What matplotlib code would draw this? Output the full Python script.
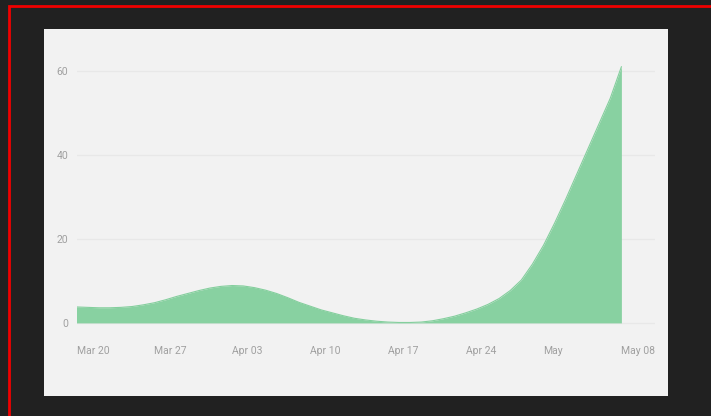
import matplotlib

matplotlib.use("Agg")
import matplotlib.pyplot as plt
import matplotlib.dates as mdates
import pandas as pd
from matplotlib.patches import Rectangle

START = "2020-03-20"
VALUES = [
    3.8, 3.7, 3.6, 3.6, 3.7, 3.9, 4.3,
    4.8, 5.5, 6.3, 7.0, 7.7, 8.3, 8.7,
    8.9, 8.8, 8.4, 7.8, 7.0, 6.0, 4.9,
    4.0, 3.1, 2.4, 1.7, 1.1, 0.7, 0.4,
    0.2, 0.1, 0.1, 0.2, 0.5, 1.0, 1.6,
    2.4, 3.3, 4.4, 5.8, 7.7, 10.2, 14.0,
    18.5, 23.8, 29.5, 35.5, 41.5, 47.5, 53.5,
    61.0,
]
TICK_DATES = ["2020-03-20", "2020-03-27", "2020-04-03", "2020-04-10",
              "2020-04-17", "2020-04-24", "2020-05-01", "2020-05-08"]
TICK_LABELS = ["Mar 20", "Mar 27", "Apr 03", "Apr 10", "Apr 17", "Apr 24", "May", "May 08"]
Y_TICKS = [0, 20, 40, 60]

W, H = 711, 416
FONT = ["Roboto", "DejaVu Sans"]
TEXT_COLOR = "#a0a0a0"

dates = pd.date_range(START, periods=len(VALUES), freq="D")

fig = plt.figure(figsize=(W / 100, H / 100), dpi=100, facecolor="#212121")

# red frame, right/bottom edges run off the canvas
fig.patches.append(Rectangle((8.5 / W, -0.02), 1.02, 1 - 6 / H + 0.02, transform=fig.transFigure,
                             fill=False, edgecolor="#f00000", linewidth=2, zorder=-10))
# light panel
fig.patches.append(Rectangle((44 / W, 1 - 396 / H), 624 / W, 367 / H, transform=fig.transFigure,
                             facecolor="#f2f2f2", edgecolor="none", zorder=-10))

left, right, top, bottom = 76.5, 655, 60, 325
ax = fig.add_axes([left / W, 1 - bottom / H, (right - left) / W, (bottom - top) / H])
ax.patch.set_alpha(0)

x0 = mdates.date2num(dates[0])
ax.set_xlim(x0, x0 + (right - left) / 11.12)
ax.set_ylim(-0.5, (323 - top) / 4.2)

ax.fill_between(dates, 0, VALUES, color="#88d1a1", linewidth=0, zorder=2)
ax.plot(dates, VALUES, color="#84cf9d", linewidth=0.8, zorder=3)

for y in Y_TICKS:
    ax.axhline(y, color="#e8e8e8", linewidth=1, zorder=1)

for s in ax.spines.values():
    s.set_visible(False)

ax.set_yticks(Y_TICKS)
ax.set_yticklabels([str(v) for v in Y_TICKS], fontfamily=FONT, fontsize=7.5, color=TEXT_COLOR)
ax.set_xticks(pd.to_datetime(TICK_DATES))
ax.set_xticklabels(TICK_LABELS, fontfamily=FONT, fontsize=7.5, color=TEXT_COLOR, ha="left")
ax.tick_params(axis="both", length=0)
ax.tick_params(axis="x", pad=15)
ax.tick_params(axis="y", pad=6)

fig.savefig("out.png", dpi=100, facecolor=fig.get_facecolor())
